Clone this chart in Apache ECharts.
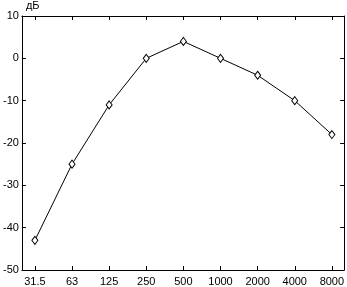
<!DOCTYPE html>
<html><head><meta charset="utf-8">
<script src="https://cdn.jsdelivr.net/npm/echarts@6/dist/echarts.min.js"></script>
<style>html,body{margin:0;padding:0;background:#fff}#c{width:347px;height:287px}</style>
</head><body><div id="c"></div>
<script>
const categories = ['31.5','63','125','250','500','1000','2000','4000','8000'];
const levels = [-43, -25, -11, 0, 4, 0, -4, -10, -18];
const yTicks = [10, 0, -10, -20, -30, -40, -50];
const yUnit = 'дБ';

const idx = categories.map((_, i) => i);
const font = {fontFamily: 'Liberation Sans', fontSize: 11, color: '#000'};
const chart = echarts.init(document.getElementById('c'), null, {renderer: 'canvas'});
const axisLine = {show: true, onZero: false, lineStyle: {color: '#000', width: 1}};
chart.setOption({
  animation: false,
  grid: {left: 19, right: 1, top: 15, bottom: 16, containLabel: false},
  xAxis: [{
    type: 'value', min: -0.35, max: 8.33, position: 'bottom',
    axisLine: axisLine, splitLine: {show: false},
    axisTick: {show: true, inside: true, length: 4, customValues: idx, lineStyle: {color: '#000'}},
    axisLabel: Object.assign({customValues: idx, margin: 6, formatter: v => categories[Math.round(v)]}, font)
  }, {
    type: 'value', min: -0.35, max: 8.33, position: 'top',
    axisLine: axisLine, splitLine: {show: false},
    axisTick: {show: true, inside: true, length: 4, customValues: idx, lineStyle: {color: '#000'}},
    axisLabel: {show: false}
  }],
  yAxis: [{
    type: 'value', min: -50, max: 10, position: 'left',
    name: yUnit, nameLocation: 'end', nameGap: 5,
    nameTextStyle: {fontFamily: 'Liberation Sans', fontSize: 11, color: '#000', align: 'left', padding: [0, 0, 0, 4]},
    axisLine: axisLine, splitLine: {show: false},
    axisTick: {show: true, inside: true, length: 4, customValues: yTicks, lineStyle: {color: '#000'}},
    axisLabel: Object.assign({margin: 3, customValues: yTicks}, font)
  }, {
    type: 'value', min: -50, max: 10, position: 'right',
    axisLine: axisLine, splitLine: {show: false},
    axisTick: {show: true, inside: true, length: 4, customValues: yTicks, lineStyle: {color: '#000'}},
    axisLabel: {show: false}
  }],
  series: [{
    type: 'line',
    data: levels.map((v, i) => [i, v]),
    symbol: 'diamond', symbolSize: [6, 8], showSymbol: true,
    lineStyle: {color: '#000', width: 1},
    itemStyle: {color: '#fff', borderColor: '#000', borderWidth: 1}
  }]
});
</script></body></html>
